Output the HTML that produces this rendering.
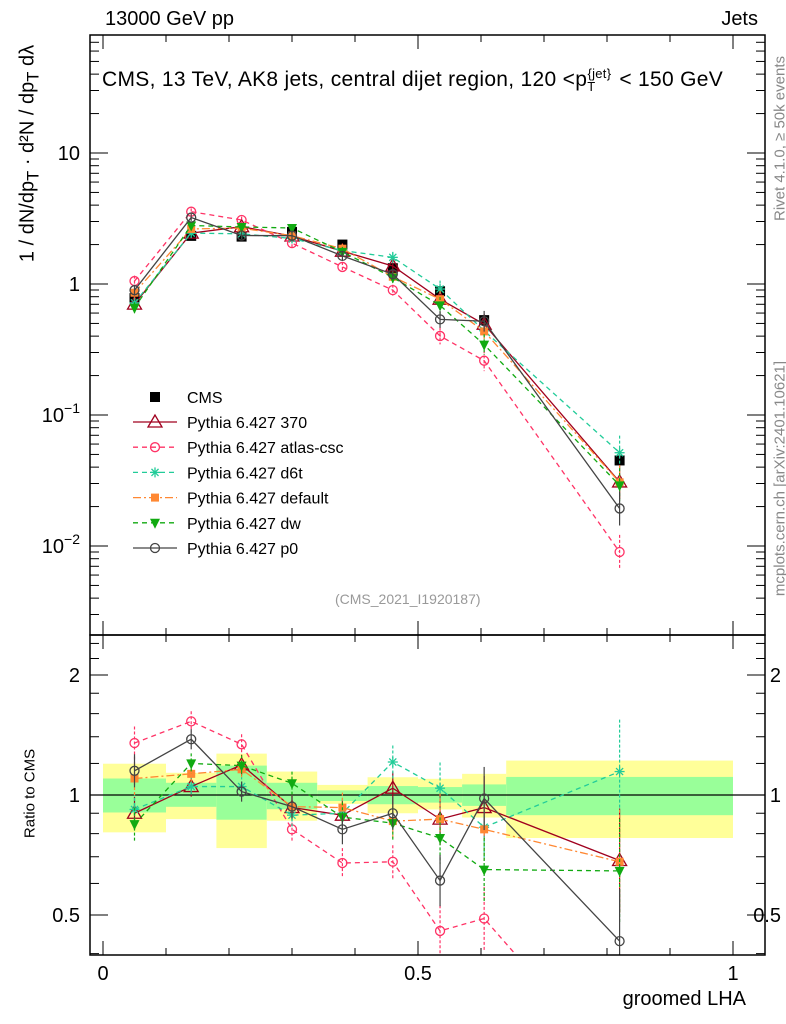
<!DOCTYPE html>
<html><head><meta charset="utf-8"><style>
html,body{margin:0;background:#fff;width:786px;height:1024px;overflow:hidden;}
svg{font-family:"Liberation Sans",sans-serif;display:block;position:absolute;left:0;top:0;}
</style></head><body>
<svg id="c" width="786" height="1024"></svg>
<script>
const xCenters=[0.05,0.14,0.22,0.30,0.38,0.46,0.535,0.605,0.82];
const binEdges=[0,0.1,0.18,0.26,0.34,0.42,0.5,0.57,0.64,1.0];
const cmsValues=[0.78,2.33,2.3,2.5,2.0,1.32,0.88,0.53,0.045];
const bandGreenLo=[0.904,0.934,0.867,0.921,0.966,0.948,0.957,0.939,0.89];
const bandGreenHi=[1.10,1.073,1.185,1.073,1.027,1.053,1.047,1.063,1.11];
const bandYellowLo=[0.806,0.870,0.736,0.862,0.95,0.90,0.92,0.878,0.78];
const bandYellowHi=[1.198,1.137,1.27,1.145,1.06,1.108,1.098,1.13,1.22];
const r370=[0.90,1.05,1.19,0.93,0.89,1.04,0.87,0.93,0.685];
const rAtlas=[1.35,1.53,1.34,0.82,0.675,0.68,0.456,0.49,0.2];
const rD6t=[0.92,1.05,1.05,0.89,0.90,1.21,1.04,0.83,1.145];
const rDefault=[1.10,1.13,1.16,0.935,0.93,0.86,0.87,0.82,0.68];
const rDw=[0.845,1.20,1.185,1.07,0.88,0.85,0.78,0.65,0.645];
const rP0=[1.15,1.38,1.02,0.935,0.82,0.90,0.61,0.98,0.43];
const errRel=[0.10,0.06,0.06,0.07,0.09,0.10,0.16,0.20,0.35];
const xTicks=[0,0.5,1];
const mainTicks=[10,1,0.1,0.01];
const ratioTicks=[2,1,0.5];

const S=document.getElementById('c'),NS='http://www.w3.org/2000/svg';
function el(t,a,p){const e=document.createElementNS(NS,t);for(const k in a)e.setAttribute(k,a[k]);(p||S).appendChild(e);return e;}
const L=90,R=765,T=35,MB=635,RB=955;
const X=v=>103+630*v;
const YM=v=>284-131*Math.log10(v);
const YR=r=>795-120*Math.log2(r);
const defs=el('defs',{});
const cp1=el('clipPath',{id:'cm'},defs);el('rect',{x:L,y:T,width:R-L,height:MB-T},cp1);
const cp2=el('clipPath',{id:'cr'},defs);el('rect',{x:L,y:MB,width:R-L,height:RB-MB},cp2);
const gM=el('g',{'clip-path':'url(#cm)'});
const gR=el('g',{'clip-path':'url(#cr)'});

for(let i=0;i<xCenters.length;i++){
 const x0=X(binEdges[i]),x1=X(binEdges[i+1]);
 const y=el('rect',{x:x0,y:YR(bandYellowHi[i]),width:x1-x0,height:YR(bandYellowLo[i])-YR(bandYellowHi[i]),fill:'#ffff99'},gR);
 
 const g=el('rect',{x:x0,y:YR(bandGreenHi[i]),width:x1-x0,height:YR(bandGreenLo[i])-YR(bandGreenHi[i]),fill:'#99ff99'},gR);
 
}
el('line',{x1:L,x2:R,y1:YR(1),y2:YR(1),stroke:'#000','stroke-width':1.3},gR);

function marker(g,type,x,y,col){
 const s=5;
 if(type==='sq')el('rect',{x:x-s,y:y-s,width:2*s,height:2*s,fill:col},g);
 else if(type==='sqs')el('rect',{x:x-4,y:y-4,width:8,height:8,fill:col},g);
 else if(type==='tri')el('polygon',{points:`${x},${y-7} ${x-7},${y+5} ${x+7},${y+5}`,fill:'none',stroke:col,'stroke-width':1.3},g);
 else if(type==='tdn')el('polygon',{points:`${x},${y+6} ${x-5},${y-4} ${x+5},${y-4}`,fill:col},g);
 else if(type==='circ')el('circle',{cx:x,cy:y,r:4.5,fill:'none',stroke:col,'stroke-width':1.3},g);
 else if(type==='star'){for(let a=0;a<4;a++){const t=a*Math.PI/4;el('line',{x1:x-5*Math.cos(t),y1:y-5*Math.sin(t),x2:x+5*Math.cos(t),y2:y+5*Math.sin(t),stroke:col,'stroke-width':1.3},g);}}
}
const series=[
 {n:'Pythia 6.427 370',r:r370,c:'#a0001e',d:'',m:'tri',k:'p370'},
 {n:'Pythia 6.427 atlas-csc',r:rAtlas,c:'#ff3366',d:'5,4',m:'circ',k:'atlas-csc'},
 {n:'Pythia 6.427 d6t',r:rD6t,c:'#22cc99',d:'5,4',m:'star',k:'d6t'},
 {n:'Pythia 6.427 default',r:rDefault,c:'#ff8833',d:'8,3,2,3',m:'sqs',k:'default'},
 {n:'Pythia 6.427 dw',r:rDw,c:'#11aa11',d:'5,4',m:'tdn',k:'dw'},
 {n:'Pythia 6.427 p0',r:rP0,c:'#444444',d:'',m:'circ',k:'p0'}
];
const gc=el('g',{},gM);
for(let i=0;i<xCenters.length;i++)marker(gc,'sq',X(xCenters[i]),YM(cmsValues[i]),'#000');
series.forEach(s=>{
 for(const [g,Y,vals] of [[gM,YM,s.r.map((r,i)=>r*cmsValues[i])],[gR,YR,s.r]]){
  const gg=el('g',{},g);
  const pts=xCenters.map((x,i)=>X(x)+','+Y(vals[i])).join(' ');
  el('polyline',{points:pts,fill:'none',stroke:s.c,'stroke-width':1.3,'stroke-dasharray':s.d},gg);
  xCenters.forEach((x,i)=>{const v=vals[i],e=errRel[i];
   el('line',{x1:X(x),x2:X(x),y1:Y(v*(1+e)),y2:Y(v/(1+e)),stroke:s.c,'stroke-width':1.2,'stroke-dasharray':s.d?'3,2':''},gg);
   marker(gg,s.m,X(x),Y(v),s.c);});
 }
});
el('rect',{x:L,y:T,width:R-L,height:MB-T,fill:'none',stroke:'#000','stroke-width':1.5});
el('rect',{x:L,y:MB,width:R-L,height:RB-MB,fill:'none',stroke:'#000','stroke-width':1.5});
for(let k=0;k<=10;k++){const v=k/10,x=X(v),len=(k%5===0)?14:7;
 for(const [yt,yb] of [[T,MB],[MB,RB]]){el('line',{x1:x,x2:x,y1:yb,y2:yb-len,stroke:'#000'});el('line',{x1:x,x2:x,y1:yt,y2:yt+len,stroke:'#000'});}}
xTicks.forEach(v=>{const t=el('text',{x:X(v),y:980,'font-size':20,'text-anchor':'middle'});t.textContent=v;});
for(let d=-3;d<=1;d++)for(let m=1;m<=9;m++){const v=m*Math.pow(10,d),y=YM(v);if(y<T||y>MB)continue;const len=m===1?18:9;
 el('line',{x1:L,x2:L+len,y1:y,y2:y,stroke:'#000'});el('line',{x1:R,x2:R-len,y1:y,y2:y,stroke:'#000'});}
mainTicks.forEach(v=>{const t=el('text',{x:80,y:YM(v)+7,'font-size':20,'text-anchor':'end'});
 
 if(v>=1)t.textContent=v;else{t.textContent='10';const s=el('tspan',{dy:-9,'font-size':14},t);s.textContent=String(Math.round(Math.log10(v))).replace('-','−');}});
[0.4,0.5,0.6,0.7,0.8,0.9,1,1.2,1.4,1.6,1.8,2,2.2,2.4].forEach(v=>{const y=YR(v);if(y<MB||y>RB)return;const len=[0.5,1,2].includes(v)?18:9;
 el('line',{x1:L,x2:L+len,y1:y,y2:y,stroke:'#000'});el('line',{x1:R,x2:R-len,y1:y,y2:y,stroke:'#000'});});
ratioTicks.forEach(v=>{for(const [x,a] of [[80,'end'],[781,'end']]){const t=el('text',{x:x,y:YR(v)+7,'font-size':20,'text-anchor':a});t.textContent=v;
 }});
const lg=el('g',{});
marker(lg,'sq',155,397,'#000');let tt=el('text',{x:187,y:403,'font-size':16},lg);tt.textContent='CMS';
series.forEach((s,i)=>{const y=422+i*25.2;
 el('line',{x1:133,x2:177,y1:y,y2:y,stroke:s.c,'stroke-width':1.3,'stroke-dasharray':s.d},lg);
 marker(lg,s.m,155,y,s.c);const t=el('text',{x:187,y:y+6,'font-size':16},lg);t.textContent=s.n;});
</script>
<div style="position:absolute;left:0;top:0;width:786px;height:1024px;overflow:hidden;font-family:'Liberation Sans',sans-serif;pointer-events:none">
<div style="position:absolute;left:105px;top:8px;font-size:20px">13000 GeV pp</div>
<div style="position:absolute;right:28px;top:8px;font-size:20px">Jets</div>
<div style="position:absolute;left:102px;top:66px;font-size:21px;white-space:nowrap;letter-spacing:0.3px">CMS, 13 TeV, AK8 jets, central dijet region, 120 &lt;p<sub style="font-size:13px">T</sub><sup style="font-size:13px;position:relative;left:-8px">{jet}</sup>&lt; 150 GeV</div>
<div style="position:absolute;left:-120px;top:140px;width:300px;transform:rotate(-90deg);font-size:20px;text-align:center;white-space:nowrap">1 / dN/dp<sub>T</sub> · d²N / dp<sub>T</sub> dλ</div>
<div style="position:absolute;left:-30px;top:785px;width:120px;transform:rotate(-90deg);font-size:15px;text-align:center">Ratio to CMS</div>
<div style="position:absolute;right:40px;top:988px;font-size:20px">groomed LHA</div>
<div style="position:absolute;left:335px;top:591px;font-size:14px;color:#999">(CMS_2021_I1920187)</div>
<div style="position:absolute;left:670px;top:130px;width:220px;transform:rotate(-90deg);font-size:15px;color:#888;white-space:nowrap;text-align:center">Rivet 4.1.0, ≥ 50k events</div>
<div style="position:absolute;left:630px;top:470px;width:300px;transform:rotate(-90deg);font-size:15px;color:#888;white-space:nowrap;text-align:center">mcplots.cern.ch [arXiv:2401.10621]</div>
</div>
</body></html>
